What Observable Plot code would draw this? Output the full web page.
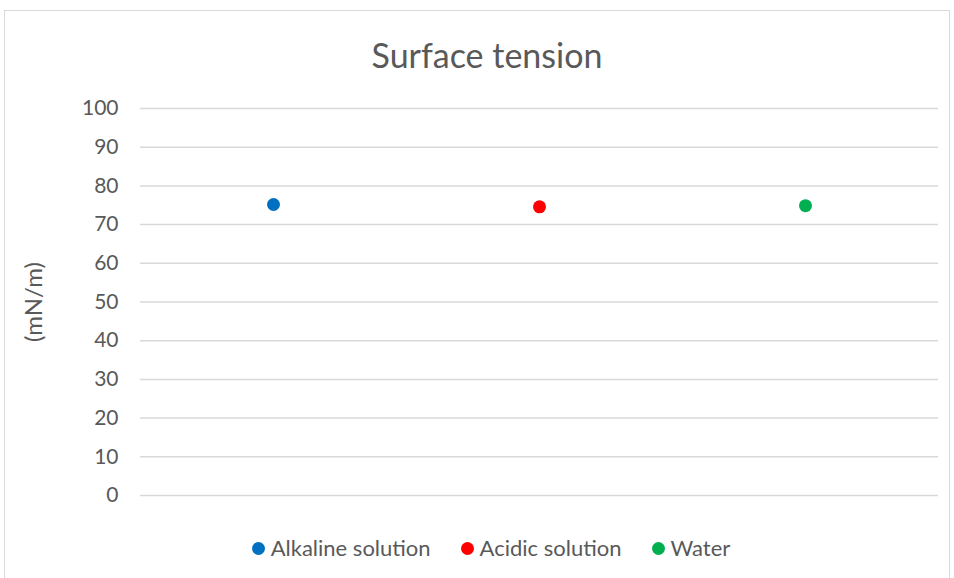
<!DOCTYPE html>
<html>
<head>
<meta charset="utf-8">
<script src="https://cdn.jsdelivr.net/npm/d3@7"></script>
<script src="https://cdn.jsdelivr.net/npm/@observablehq/plot@0.6"></script>
<style>
  html, body { margin: 0; padding: 0; background: #fff; }
  #frame { position: relative; width: 954px; height: 578px; overflow: hidden; font-family: Lato, "Open Sans", sans-serif; color: #595959; }
  #border { position: absolute; left: 4px; top: 10px; width: 946px; height: 600px; border: 1px solid #d9d9d9; box-sizing: border-box; }
  #title { position: absolute; left: 10px; width: 954px; top: 33px; text-align: center; font-size: 34px; line-height: 44px; }
  #chart { position: absolute; left: 0; top: 90px; }
  #ylabel { position: absolute; left: 32px; top: 302px; transform: translate(-50%, -50%) rotate(-90deg); font-size: 24px; white-space: nowrap; }
  #legend { position: absolute; left: 14px; width: 954px; top: 535px; display: flex; justify-content: center; font-size: 22px; line-height: 26px; }
  .item { display: flex; align-items: center; margin: 0 15px; }
  .sw { width: 13px; height: 13px; border-radius: 50%; margin-right: 6px; }
</style>
</head>
<body>
<div id="frame">
  <div id="border"></div>
  <div id="title">Surface tension</div>
  <div id="chart"></div>
  <div id="ylabel">(mN/m)</div>
  <div id="legend"></div>
</div>
<script>
const categories = ["Alkaline solution", "Acidic solution", "Water"];
const values = [75.2, 74.6, 74.9];
const colors = ["#0070C0", "#FF0000", "#00B050"];
const yTicks = [0, 10, 20, 30, 40, 50, 60, 70, 80, 90, 100];

const data = categories.map((c, i) => ({category: c, value: values[i], color: colors[i]}));

const plot = Plot.plot({
  width: 954,
  height: 430,
  marginTop: 18,
  marginBottom: 25,
  marginLeft: 140,
  marginRight: 16,
  style: {fontFamily: "Lato, 'Open Sans', sans-serif", fontSize: "21px", color: "#595959", background: "transparent"},
  x: {type: "point", domain: categories, padding: 0.5, axis: null},
  y: {domain: [0, 100], ticks: yTicks, label: null},
  marks: [
    Plot.ruleY(yTicks, {stroke: "#d9d9d9", strokeWidth: 1.5}),
    Plot.axisY({ticks: yTicks, tickSize: 0, tickPadding: 22, label: null, fill: "#595959"}),
    Plot.dot(data, {x: "category", y: "value", fill: "color", r: 6.5, stroke: "none"})
  ]
});
document.getElementById("chart").appendChild(plot);

const legend = document.getElementById("legend");
categories.forEach((c, i) => {
  const item = document.createElement("div");
  item.className = "item";
  const sw = document.createElement("div");
  sw.className = "sw";
  sw.style.background = colors[i];
  const t = document.createElement("span");
  t.textContent = c;
  item.appendChild(sw);
  item.appendChild(t);
  legend.appendChild(item);
});
</script>
</body>
</html>
